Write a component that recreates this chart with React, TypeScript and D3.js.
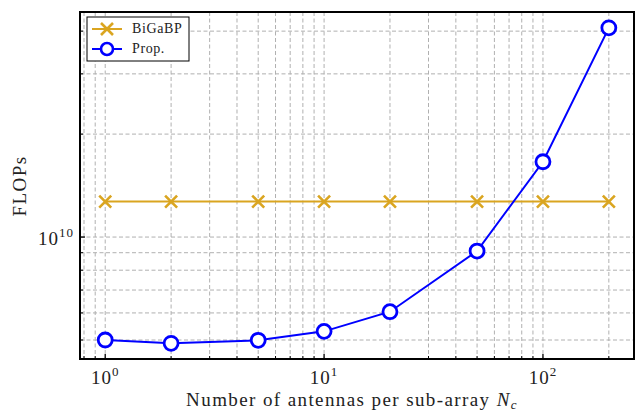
import React from "react";
import * as d3 from "d3";

// sub-array sizes
const antennas = [1, 2, 5, 10, 20, 50, 100, 200];
const bigabpFlops = [1.27e10, 1.27e10, 1.27e10, 1.27e10, 1.27e10, 1.27e10, 1.27e10, 1.27e10];
const propFlops = [5.0e9, 4.89e9, 4.99e9, 5.3e9, 6.05e9, 9.1e9, 1.66e10, 4.09e10];
const xMajorTicks = [1, 10, 100];
const yMajorTicks = [1e10];
const seriesNames = ["BiGaBP", "Prop."];

const W = 641;
const H = 411;
const m = { left: 80, right: 634, top: 12, bottom: 359 };
const FONT = "'Liberation Serif', serif";
const ORANGE = "#DAA520";
const BLUE = "#0000FF";

export default function App() {
  const x = d3.scaleLog().domain([0.767, 260.6]).range([m.left, m.right]);
  const y = d3.scaleLog().domain([4.4e9, 4.55e10]).range([m.bottom, m.top]);

  // minor ticks from 2..9 per decade
  const xMinor: number[] = [];
  for (let e = -1; e <= 2; e++)
    for (let k = 2; k <= 9; k++) {
      const v = k * Math.pow(10, e);
      if (v >= x.domain()[0] && v <= x.domain()[1]) xMinor.push(v);
    }
  const yMinor: number[] = [];
  for (let e = 9; e <= 10; e++)
    for (let k = 2; k <= 9; k++) {
      const v = k * Math.pow(10, e);
      if (v >= y.domain()[0] && v <= y.domain()[1]) yMinor.push(v);
    }

  const line = d3
    .line<number>()
    .x((_, i) => x(antennas[i]))
    .y((d) => y(d));

  const grid = { stroke: "#b0b0b0", strokeWidth: 1, strokeDasharray: "4,2.5" };

  const cross = (cx: number, cy: number, s: number, key?: any) => (
    <path
      key={key}
      d={`M${cx - s},${cy - s}L${cx + s},${cy + s}M${cx - s},${cy + s}L${cx + s},${cy - s}`}
      stroke={ORANGE}
      strokeWidth={2.6}
      fill="none"
    />
  );

  return (
    <svg width={W} height={H} style={{ position: "absolute", left: 0, top: 0, background: "#fff" }}>
      <rect width={W} height={H} fill="#fff" />
      {/* grid */}
      {[...xMinor, ...xMajorTicks].map((v) => (
        <line key={"gx" + v} x1={x(v)} x2={x(v)} y1={m.top} y2={m.bottom} {...grid} />
      ))}
      {[...yMinor, ...yMajorTicks].map((v) => (
        <line key={"gy" + v} x1={m.left} x2={m.right} y1={y(v)} y2={y(v)} {...grid} />
      ))}

      {/* series */}
      <path d={line(bigabpFlops) || ""} fill="none" stroke={ORANGE} strokeWidth={2} />
      {bigabpFlops.map((d, i) => cross(x(antennas[i]), y(d), 6, "b" + i))}
      <path d={line(propFlops) || ""} fill="none" stroke={BLUE} strokeWidth={2} />
      {propFlops.map((d, i) => (
        <circle key={"p" + i} cx={x(antennas[i])} cy={y(d)} r={7} fill="#fff" stroke={BLUE} strokeWidth={2.8} />
      ))}

      {/* ticks */}
      {xMajorTicks.map((v) => (
        <line key={"tx" + v} x1={x(v)} x2={x(v)} y1={m.bottom} y2={m.bottom - 5} stroke="#000" strokeWidth={1.3} />
      ))}
      {xMinor.map((v) => (
        <line key={"tmx" + v} x1={x(v)} x2={x(v)} y1={m.bottom} y2={m.bottom - 3} stroke="#000" strokeWidth={1} />
      ))}
      {yMajorTicks.map((v) => (
        <line key={"ty" + v} x1={m.left} x2={m.left + 5} y1={y(v)} y2={y(v)} stroke="#000" strokeWidth={1.3} />
      ))}
      {yMinor.map((v) => (
        <line key={"tmy" + v} x1={m.left} x2={m.left + 3} y1={y(v)} y2={y(v)} stroke="#000" strokeWidth={1} />
      ))}

      {/* frame */}
      <rect x={m.left} y={m.top} width={m.right - m.left} height={m.bottom - m.top} fill="none" stroke="#000" strokeWidth={2} />

      {/* tick labels */}
      {xMajorTicks.map((v) => (
        <text key={"lx" + v} x={x(v)} y={m.bottom + 25} textAnchor="middle" fontFamily={FONT} fontSize={19} letterSpacing={1} fill="#222">
          10<tspan dy={-8} fontSize={13}>{Math.round(Math.log10(v))}</tspan>
        </text>
      ))}
      {yMajorTicks.map((v) => (
        <text key={"ly" + v} x={m.left - 6} y={y(v) + 8} textAnchor="end" fontFamily={FONT} fontSize={19} letterSpacing={1} fill="#222">
          10<tspan dy={-8} fontSize={13}>{Math.round(Math.log10(v))}</tspan>
        </text>
      ))}

      {/* axis titles */}
      <text x={352} y={406} textAnchor="middle" fontFamily={FONT} fontSize={19} letterSpacing={1.4} fill="#222">
        Number of antennas per sub-array <tspan fontStyle="italic">N</tspan>
        <tspan fontStyle="italic" fontSize={13} dy={3}>c</tspan>
      </text>
      <text transform={`translate(26,186) rotate(-90)`} textAnchor="middle" fontFamily={FONT} fontSize={19} letterSpacing={1.4} fill="#222">
        FLOPs
      </text>

      {/* legend */}
      <g transform="translate(87,17)">
        <rect x={0} y={0} width={102} height={44} fill="#fff" stroke="#000" strokeWidth={1} />
        <line x1={5} x2={35} y1={12} y2={12} stroke={ORANGE} strokeWidth={2} />
        {cross(20, 12, 6)}
        <text x={45} y={16} fontFamily={FONT} fontSize={14} letterSpacing={0.6} fill="#222">{seriesNames[0]}</text>
        <line x1={5} x2={35} y1={32} y2={32} stroke={BLUE} strokeWidth={2} />
        <circle cx={20} cy={32} r={6} fill="#fff" stroke={BLUE} strokeWidth={2.6} />
        <text x={45} y={36} fontFamily={FONT} fontSize={14} letterSpacing={0.6} fill="#222">{seriesNames[1]}</text>
      </g>
    </svg>
  );
}
